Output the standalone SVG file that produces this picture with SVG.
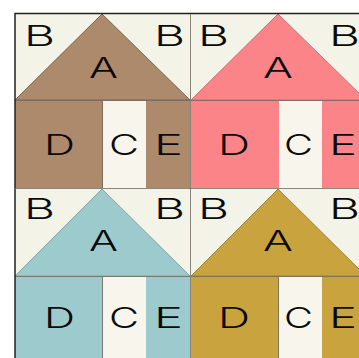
<svg xmlns="http://www.w3.org/2000/svg" width="359" height="358" viewBox="0 0 359 358">
<defs>
<style>
.bg{fill:#f3f3e8}
.ln{stroke:#6f675c;stroke-width:1;fill:none;stroke-opacity:.8}
.door{fill:#f7f5ec}
text{font-family:"Inter","Liberation Sans",Arial,sans-serif;font-size:28px;font-weight:300;fill:#0a0a0a}
</style>
</defs>
<rect width="359" height="358" fill="#ffffff"/>
<g id="house-brown">
<rect class="bg" x="15" y="14" width="175" height="174"/>
<polygon points="102,14 190,100 15,100" fill="#ad8a6c" stroke="#7b6450"/>
<rect x="15" y="100" width="175" height="88" fill="#ad8a6c"/>
<rect class="door" x="103" y="101" width="43" height="87"/>
<path class="ln" d="M15 100.500H190M102.500 101V188"/>
<text x="24" y="46" textLength="31" lengthAdjust="spacingAndGlyphs">B</text>
<text x="154" y="46" textLength="31" lengthAdjust="spacingAndGlyphs">B</text>
<text x="89" y="78" textLength="29" lengthAdjust="spacingAndGlyphs">A</text>
<text x="44" y="155" textLength="31" lengthAdjust="spacingAndGlyphs">D</text>
<text x="109" y="155" textLength="30" lengthAdjust="spacingAndGlyphs">C</text>
<text x="154" y="155" textLength="29" lengthAdjust="spacingAndGlyphs">E</text>
</g>
<g id="house-pink">
<rect class="bg" x="190" y="14" width="169" height="174"/>
<polygon points="278,14 366,100 191,100" fill="#fb8489" stroke="#c86f70"/>
<rect x="191" y="100" width="168" height="88" fill="#fb8489"/>
<rect class="door" x="279" y="101" width="43" height="87"/>
<path class="ln" d="M191 100.500H359" stroke-opacity=".4"/>
<text x="198" y="46" textLength="31" lengthAdjust="spacingAndGlyphs">B</text>
<text x="329" y="46" textLength="31" lengthAdjust="spacingAndGlyphs">B</text>
<text x="263" y="78" textLength="30" lengthAdjust="spacingAndGlyphs">A</text>
<text x="218" y="155" textLength="32" lengthAdjust="spacingAndGlyphs">D</text>
<text x="284" y="155" textLength="29" lengthAdjust="spacingAndGlyphs">C</text>
<text x="329" y="155" textLength="28" lengthAdjust="spacingAndGlyphs">E</text>
</g>
<g id="house-teal">
<rect class="bg" x="15" y="189" width="175" height="169"/>
<polygon points="102,189 190,276 15,276" fill="#9dcbcd" stroke="#7ea5a6"/>
<rect x="15" y="276" width="175" height="82" fill="#9dcbcd"/>
<rect class="door" x="103" y="277" width="43" height="81"/>
<path class="ln" d="M15 276.500H190M102.500 277V358" stroke-opacity=".5"/>
<text x="24" y="219" textLength="31" lengthAdjust="spacingAndGlyphs">B</text>
<text x="154" y="219" textLength="31" lengthAdjust="spacingAndGlyphs">B</text>
<text x="89" y="251" textLength="29" lengthAdjust="spacingAndGlyphs">A</text>
<text x="44" y="328" textLength="31" lengthAdjust="spacingAndGlyphs">D</text>
<text x="109" y="328" textLength="30" lengthAdjust="spacingAndGlyphs">C</text>
<text x="154" y="328" textLength="29" lengthAdjust="spacingAndGlyphs">E</text>
</g>
<g id="house-gold">
<rect class="bg" x="190" y="189" width="169" height="169"/>
<polygon points="278,189 366,276 191,276" fill="#c9a33d" stroke="#a0823a"/>
<rect x="191" y="276" width="168" height="82" fill="#c9a33d"/>
<rect class="door" x="279" y="277" width="43" height="81"/>
<path class="ln" d="M191 276.500H359M278.500 277V358"/>
<text x="198" y="219" textLength="31" lengthAdjust="spacingAndGlyphs">B</text>
<text x="329" y="219" textLength="31" lengthAdjust="spacingAndGlyphs">B</text>
<text x="263" y="251" textLength="30" lengthAdjust="spacingAndGlyphs">A</text>
<text x="218" y="328" textLength="32" lengthAdjust="spacingAndGlyphs">D</text>
<text x="284" y="328" textLength="29" lengthAdjust="spacingAndGlyphs">C</text>
<text x="329" y="328" textLength="28" lengthAdjust="spacingAndGlyphs">E</text>
</g>
<g id="frame">
<path d="M15 358V13.500H359" fill="none" stroke="#222" stroke-width="1.500"/>
<path class="ln" d="M190.500 14V358M15 188.500H359"/>
</g>
</svg>
